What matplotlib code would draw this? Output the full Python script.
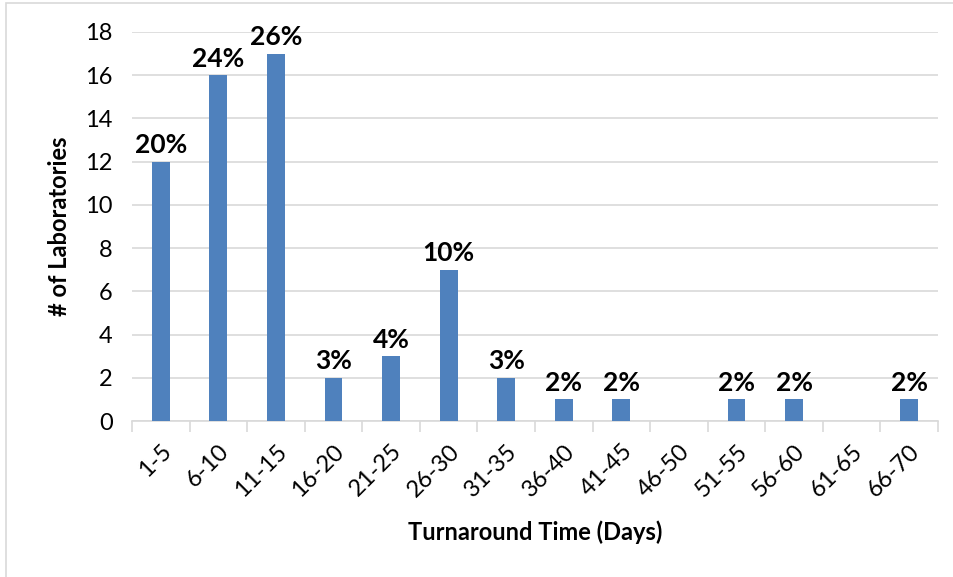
import numpy as np
import matplotlib.pyplot as plt
from matplotlib.patches import Rectangle

# turnaround time bins and number of labs in each
bins = ['1-5', '6-10', '11-15', '16-20', '21-25', '26-30', '31-35',
        '36-40', '41-45', '46-50', '51-55', '56-60', '61-65', '66-70']
labs = [12, 16, 17, 2, 3, 7, 2, 1, 1, 0, 1, 1, 0, 1]
pct_labels = ['20%', '24%', '26%', '3%', '4%', '10%', '3%',
              '2%', '2%', '', '2%', '2%', '', '2%']

plt.rcParams['font.family'] = ['Lato', 'DejaVu Sans']

fig = plt.figure(figsize=(9.54, 5.77), dpi=100)
ax = fig.add_axes([132 / 954, 1 - 421 / 577, (938 - 132) / 954, (421 - 32) / 577])

x = np.arange(len(bins))
ax.bar(x, labs, width=0.31, color='#4f81bd', zorder=3)

for xi, v, lab in zip(x, labs, pct_labels):
    if lab:
        ax.text(xi, v + 0.2, lab, ha='center', va='bottom',
                fontsize=19, fontweight='bold', color='black')

ax.set_xlim(-0.5, len(bins) - 0.5)
ax.set_ylim(0, 18)
ax.set_yticks(range(0, 19, 2))
ax.yaxis.grid(True, color='#d9d9d9', linewidth=1.2, zorder=0)
ax.set_axisbelow(True)

ax.set_xticks(x)
ax.set_xticklabels(bins, rotation=45, ha='right', rotation_mode='anchor', fontsize=17)
ax.set_xticks(np.arange(-0.5, len(bins)), minor=True)
ax.tick_params(axis='x', which='major', length=0, pad=14)
ax.tick_params(axis='x', which='minor', length=8, color='#d9d9d9', width=1.2, direction='out')
ax.tick_params(axis='y', length=0, labelsize=17, pad=14)

for side in ['top', 'right', 'left']:
    ax.spines[side].set_visible(False)
ax.spines['bottom'].set_color('#d9d9d9')
ax.spines['bottom'].set_linewidth(1.2)

ax.set_xlabel('Turnaround Time (Days)', fontsize=17, fontweight='bold', labelpad=14)
ax.set_ylabel('# of Laboratories', fontsize=17, fontweight='bold', labelpad=10)

# light frame around the chart
fig.patches.append(Rectangle((6 / 954, -0.05), 1.1, 1 - 3 / 577 + 0.05,
                             transform=fig.transFigure, fill=False,
                             edgecolor='#d9d9d9', linewidth=1.2))

fig.savefig('out.png', dpi=100)
